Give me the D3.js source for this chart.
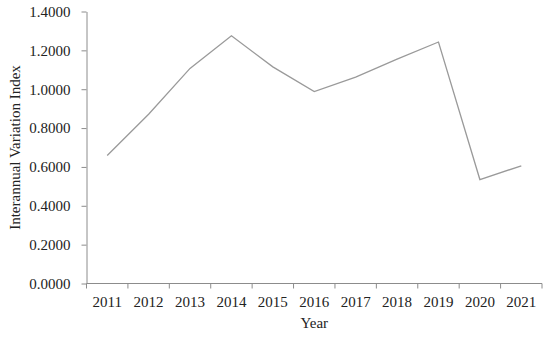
<!DOCTYPE html>
<html>
<head>
<meta charset="utf-8">
<script src="https://cdn.jsdelivr.net/npm/d3@7"></script>
<style>
  body { margin: 0; background: #fff; }
  text { font-family: "Liberation Serif", "Times New Roman", serif; fill: #222; }
</style>
</head>
<body>
<svg id="chart" width="550" height="337"></svg>
<script>
const years = ['2011', '2012', '2013', '2014', '2015', '2016', '2017', '2018', '2019', '2020', '2021'];
const values = [0.659, 0.871, 1.107, 1.275, 1.115, 0.988, 1.062, 1.155, 1.243, 0.535, 0.606];
const yTicks = [0, 0.2, 0.4, 0.6, 0.8, 1.0, 1.2, 1.4];

const svg = d3.select('#chart');
const mLeft = 86.5, mRight = 542, mTop = 11.5, mBottom = 283.5;

const x = d3.scaleBand().domain(years).range([mLeft, mRight]);
const y = d3.scaleLinear().domain([0, 1.4]).range([mBottom, mTop]);

const axisColor = '#8c8c8c';

// y axis
const yAxis = svg.append('g')
    .attr('transform', `translate(${mLeft},0)`)
    .call(d3.axisLeft(y).tickValues(yTicks).tickFormat(d3.format('.4f')).tickSize(5).tickSizeOuter(0).tickPadding(11));
yAxis.select('.domain').attr('stroke', axisColor);
yAxis.selectAll('.tick line').attr('stroke', axisColor);
yAxis.selectAll('text').attr('font-size', 15).attr('fill', '#222')
    .attr('font-family', '"Liberation Serif", serif');

// x axis, ticks at band edges
const xAxis = svg.append('g')
    .attr('transform', `translate(0,${mBottom})`);
xAxis.append('line')
    .attr('x1', mLeft).attr('x2', mRight)
    .attr('stroke', axisColor);
xAxis.selectAll('.edge')
    .data(years.concat(['end']))
    .enter()
    .append('line')
    .attr('class', 'edge')
    .attr('x1', (d, i) => i < years.length ? x(d) : mRight)
    .attr('x2', (d, i) => i < years.length ? x(d) : mRight)
    .attr('y1', 0).attr('y2', 5)
    .attr('stroke', axisColor);
xAxis.selectAll('.lbl')
    .data(years)
    .enter()
    .append('text')
    .attr('class', 'lbl')
    .attr('x', d => x(d) + x.bandwidth() / 2)
    .attr('y', 23)
    .attr('text-anchor', 'middle')
    .attr('font-size', 15)
    .text(d => d);

// line
const line = d3.line()
    .x((d, i) => x(years[i]) + x.bandwidth() / 2)
    .y(d => y(d));

svg.append('path')
    .datum(values)
    .attr('d', line)
    .attr('fill', 'none')
    .attr('stroke', '#9a9a9a')
    .attr('stroke-width', 1.3);

// axis titles
svg.append('text')
    .attr('x', (mLeft + mRight) / 2)
    .attr('y', 328)
    .attr('text-anchor', 'middle')
    .attr('font-size', 15)
    .text('Year');

svg.append('text')
    .attr('transform', `translate(20,${(mTop + mBottom) / 2}) rotate(-90)`)
    .attr('text-anchor', 'middle')
    .attr('font-size', 15)
    .text('Interannual Variation Index');
</script>
</body>
</html>
